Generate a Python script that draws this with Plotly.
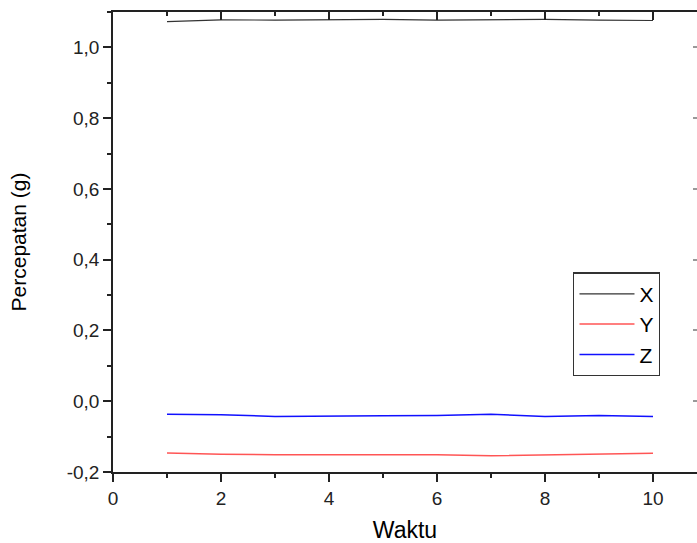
import plotly.graph_objects as go

waktu = [1, 2, 3, 4, 5, 6, 7, 8, 9, 10]
x_vals = [1.073, 1.078, 1.077, 1.079, 1.079, 1.077, 1.079, 1.079, 1.077, 1.076]
y_vals = [-0.146, -0.150, -0.151, -0.151, -0.151, -0.151, -0.154, -0.151, -0.150, -0.147]
z_vals = [-0.037, -0.038, -0.043, -0.043, -0.041, -0.040, -0.037, -0.043, -0.040, -0.043]

xtick_vals = [0, 2, 4, 6, 8, 10]
xtick_text = ["0", "2", "4", "6", "8", "10"]
ytick_vals = [-0.2, 0.0, 0.2, 0.4, 0.6, 0.8, 1.0]
ytick_text = ["-0,2", "0,0", "0,2", "0,4", "0,6", "0,8", "1,0"]

XR = [0, 10.815]
YR = [-0.2, 1.1]
AX = "#222222"
FONT = "Liberation Sans, Arial, sans-serif"

fig = go.Figure()
fig.add_trace(go.Scatter(x=waktu, y=x_vals, mode="lines", name="X",
                         line=dict(color="#333333", width=1.2)))
fig.add_trace(go.Scatter(x=waktu, y=y_vals, mode="lines", name="Y",
                         line=dict(color="#ff5555", width=1.5)))
fig.add_trace(go.Scatter(x=waktu, y=z_vals, mode="lines", name="Z",
                         line=dict(color="#1010ff", width=1.5)))

fig.update_layout(
    width=697, height=543,
    margin=dict(l=113, r=0, t=12, b=71),
    paper_bgcolor="white", plot_bgcolor="white",
    font=dict(family=FONT, color="#111111"),
    showlegend=True,
    legend=dict(x=0.788, y=0.434, xanchor="left", yanchor="top",
                bordercolor="#333333", borderwidth=1.3, bgcolor="white",
                font=dict(size=21, family=FONT, color="black"),
                itemwidth=55, tracegroupgap=0),
    xaxis=dict(range=XR, showgrid=False, zeroline=False,
               showline=True, linecolor=AX, linewidth=1.5,
               ticks="outside", ticklen=8, tickwidth=1.5, tickcolor=AX,
               tickvals=xtick_vals, ticktext=xtick_text,
               tickfont=dict(size=19, family=FONT, color="#222222"),
               minor=dict(dtick=1, tick0=1, ticks="outside", ticklen=4, tickwidth=1.5, tickcolor=AX, showgrid=False),
               title=dict(text="Waktu", font=dict(size=23, family=FONT, color="black"), standoff=14)),
    yaxis=dict(range=YR, showgrid=False, zeroline=False,
               showline=True, linecolor=AX, linewidth=1.5,
               ticks="outside", ticklen=8, tickwidth=1.5, tickcolor=AX,
               tickvals=ytick_vals, ticktext=ytick_text,
               tickfont=dict(size=19, family=FONT, color="#222222"),
               minor=dict(dtick=0.1, tick0=-0.1, ticks="outside", ticklen=4, tickwidth=1.5, tickcolor=AX, showgrid=False),
               title=dict(text="Percepatan (g)", font=dict(size=21, family=FONT, color="black"), standoff=34)),
    # top frame: minor-length ticks every 1
    xaxis2=dict(range=XR, overlaying="x", side="top", anchor="y",
                showgrid=False, zeroline=False, showline=True, linecolor=AX, linewidth=1.5,
                ticks="inside", ticklen=4, tickwidth=1.5, tickcolor=AX,
                tickmode="linear", tick0=0, dtick=1, showticklabels=False),
    # top frame: major-length ticks every 2
    xaxis3=dict(range=XR, overlaying="x", side="top", anchor="y",
                showgrid=False, zeroline=False, showline=False,
                ticks="inside", ticklen=8, tickwidth=1.5, tickcolor=AX,
                tickmode="linear", tick0=0, dtick=2, showticklabels=False),
    yaxis2=dict(range=YR, overlaying="y", side="right", anchor="x",
                showgrid=False, zeroline=False, showline=False,
                ticks="inside", ticklen=4, tickwidth=1.5, tickcolor="#999999",
                tickvals=ytick_vals, showticklabels=False),
)
# invisible traces so the mirrored axes render
fig.add_trace(go.Scatter(x=[None], y=[None], xaxis="x2", yaxis="y2", showlegend=False, hoverinfo="skip"))
fig.add_trace(go.Scatter(x=[None], y=[None], xaxis="x3", yaxis="y2", showlegend=False, hoverinfo="skip"))

fig.write_html("out.html")
